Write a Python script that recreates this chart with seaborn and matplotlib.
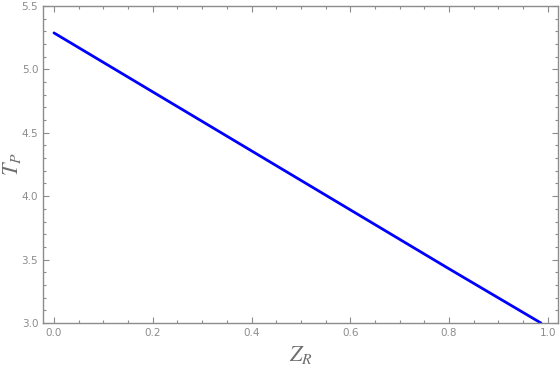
import matplotlib
matplotlib.use("Agg")
import matplotlib.pyplot as plt
import seaborn as sns
import pandas as pd
from matplotlib.ticker import MultipleLocator

# values
z_r = [0.0, 0.2, 0.4, 0.6, 0.8, 0.986]
t_p = [5.287, 4.822, 4.357, 3.892, 3.427, 3.0]

df = pd.DataFrame({"Z_R": z_r, "T_P": t_p})

sns.set_theme(style="ticks")
plt.rcParams["mathtext.fontset"] = "stix"
grey = "#8c8c8c"

fig = plt.figure(figsize=(5.6, 3.92), dpi=100)
ax = fig.add_axes([0.077, 0.176, 0.919, 0.809])

sns.lineplot(data=df, x="Z_R", y="T_P", color="#0000ff", linewidth=2, ax=ax)

ax.set_xlim(-0.022, 1.02)
ax.set_ylim(3.0, 5.5)
ax.xaxis.set_major_locator(MultipleLocator(0.2))
ax.xaxis.set_minor_locator(MultipleLocator(0.05))
ax.yaxis.set_major_locator(MultipleLocator(0.5))
ax.yaxis.set_minor_locator(MultipleLocator(0.1))
ax.xaxis.set_major_formatter(lambda v, p: f"{v:.1f}")
ax.yaxis.set_major_formatter(lambda v, p: f"{v:.1f}")

ax.tick_params(which="both", direction="in", top=True, right=True,
               color=grey, labelcolor=grey, labelsize=7.5, width=0.8)
ax.tick_params(which="major", length=4)
ax.tick_params(which="minor", length=2)
for s in ax.spines.values():
    s.set_color(grey)
    s.set_linewidth(1)

ax.set_xlabel("$Z_R$", fontsize=16, color="#6e6e6e")
ax.set_ylabel("$T_P$", fontsize=16, color="#6e6e6e")
ax.xaxis.set_label_coords(0.5, -0.065)
ax.yaxis.set_label_coords(-0.04, 0.5)

fig.savefig("out.png", dpi=100, facecolor="white")
